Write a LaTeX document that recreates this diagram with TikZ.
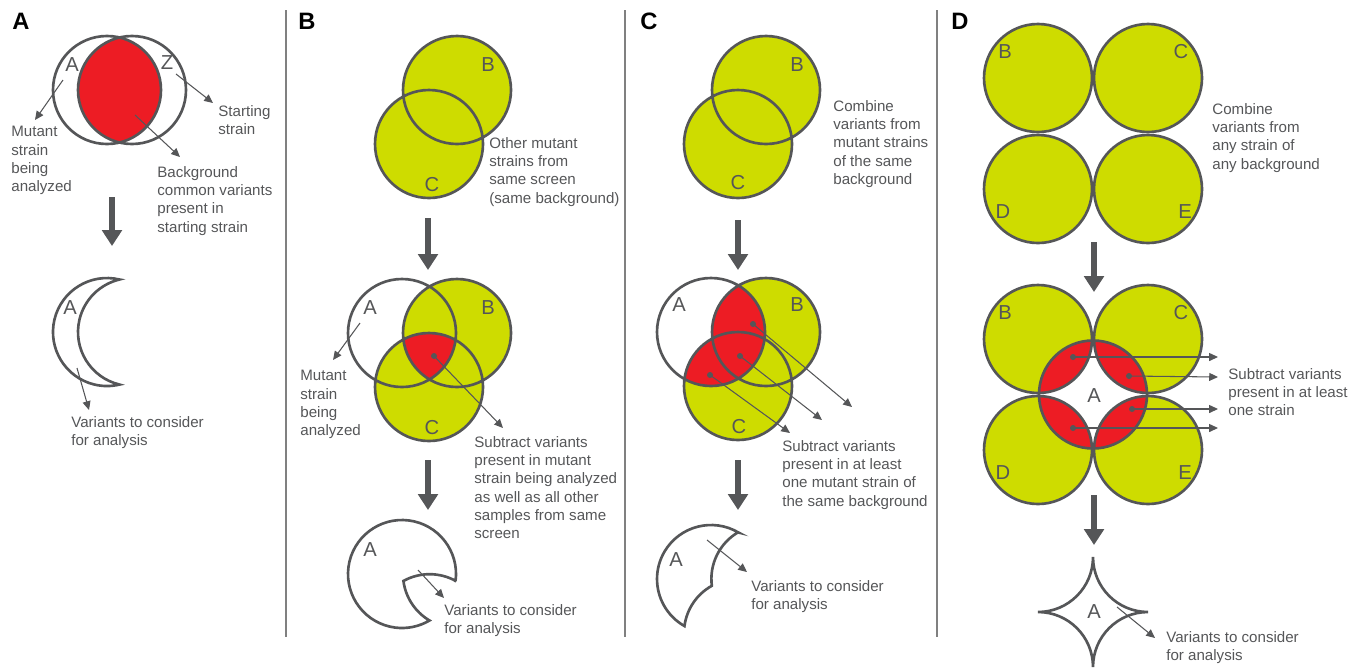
\documentclass[tikz,border=0pt]{standalone}
\usepackage{fontspec}
\setmainfont{Liberation Sans}
\usetikzlibrary{arrows.meta}

\definecolor{strainyellow}{RGB}{206,220,0}
\definecolor{hitred}{RGB}{237,28,36}
\definecolor{inkgray}{RGB}{85,86,88}
\definecolor{rulegray}{RGB}{128,128,128}

\tikzset{
  ring/.style={draw=inkgray, line width=1.5pt},
  lab/.style={text=inkgray, font=\fontsize{11.5}{13}\selectfont, inner sep=0pt},
  note/.style={text=inkgray, font=\fontsize{8.6}{10.4}\selectfont, align=left, anchor=north west, inner sep=0pt},
  ptr/.style={draw=inkgray, line width=0.6pt, -{Triangle[length=5pt,width=4.5pt]}},
  bigarr/.style={draw=inkgray, line width=3.4pt, -{Triangle[length=9pt,width=11pt]}},
  dot/.style={fill=inkgray},
  panel/.style={font=\fontsize{13.5}{16}\selectfont\bfseries, inner sep=0pt},
  sep/.style={draw=rulegray, line width=0.8pt}
}

\begin{document}
\begin{tikzpicture}[x=0.02cm, y=-0.02cm]
  \useasboundingbox (0,0) rectangle (1364,667);
  \foreach \x in {286,625,937} \draw[sep] (\x,10) -- (\x,637);
  \node[panel] (pa) at (21,21) {A};
  \node[panel] (pb) at (307,21) {B};
  \node[panel] (pc) at (649,21) {C};
  \node[panel] (pd) at (960,21) {D};

  % A: mutant vs starting strain
  \begin{scope}
    \clip (107,90) circle (54);
    \fill[hitred] (132,90) circle (54);
  \end{scope}
  \draw[ring] (107,90) circle (54) (132,90) circle (54);
  \node[lab] (la1) at (72,65) {A};
  \node[lab] (lz1) at (167,63) {Z};
  \coordinate (sA) at (63,80);   \coordinate (tA) at (35,120);
  \coordinate (sZ) at (176,74);  \coordinate (tZ) at (213,103);
  \coordinate (sR) at (135,115); \coordinate (tR) at (180,157);
  \draw[ptr] (sA) -- (tA);
  \draw[ptr] (sZ) -- (tZ);
  \draw[ptr] (sR) -- (tR);
  \node[note] (mutA) at (11,126) {Mutant\\strain\\being\\analyzed};
  \node[note] (startA) at (218,105) {Starting\\strain};
  \node[note] (bgA) at (157,166) {Background\\common variants\\present in\\starting strain};
  \coordinate (bigA1) at (112,197); \coordinate (bigA2) at (112,246);
  \draw[bigarr] (bigA1) -- (bigA2);
  \draw[ring] (119.5,279.5) arc[start angle=-76.6,end angle=-283.4,radius=54]
    arc[start angle=103.4,end angle=256.6,radius=54] -- cycle;
  \node[lab] (la2) at (70,308) {A};
  \coordinate (sM) at (77,368); \coordinate (tM) at (89,410);
  \draw[ptr] (sM) -- (tM);
  \node[note] (consA) at (71,416) {Variants to consider\\for analysis};

  % B: same screen
  \fill[strainyellow] (457,90) circle (54) (429,144) circle (54);
  \draw[ring] (457,90) circle (54) (429,144) circle (54);
  \node[lab] (lb1) at (488,65) {B};
  \node[lab] (lc1) at (432,185) {C};
  \node[note] (otherB) at (489,137) {Other mutant\\strains from\\same screen\\(same background)};
  \coordinate (bigB1) at (428,218); \coordinate (bigB2) at (428,270);
  \draw[bigarr] (bigB1) -- (bigB2);
  \fill[strainyellow] (457,333) circle (54) (429,387) circle (54);
  \begin{scope}
    \clip (402,333) circle (54);
    \clip (457,333) circle (54);
    \fill[hitred] (429,387) circle (54);
  \end{scope}
  \draw[ring] (402,333) circle (54) (457,333) circle (54) (429,387) circle (54);
  \node[lab] (la3) at (370,308) {A};
  \node[lab] (lb3) at (488,308) {B};
  \node[lab] (lc3) at (432,428) {C};
  \coordinate (dB) at (434,356); \coordinate (eB) at (503,428);
  \fill[dot] (dB) circle (3);
  \draw[ptr] (dB) -- (eB);
  \coordinate (sAB) at (360,323); \coordinate (tAB) at (333,360);
  \draw[ptr] (sAB) -- (tAB);
  \node[note] (mutB) at (300,370) {Mutant\\strain\\being\\analyzed};
  \node[note] (subB) at (474,436) {Subtract variants\\present in mutant\\strain being analyzed\\as well as all other\\samples from same\\screen};
  \coordinate (bigB3) at (428,460); \coordinate (bigB4) at (428,510);
  \draw[bigarr] (bigB3) -- (bigB4);
  \draw[ring] (455.55,580.98) arc[start angle=7.43,end angle=-300.6,radius=54]
    arc[start angle=120.6,end angle=172.6,radius=54]
    arc[start angle=-119,end angle=-60.55,radius=54] -- cycle;
  \node[lab] (la4) at (370,550) {A};
  \coordinate (sPB) at (418,570); \coordinate (tPB) at (444,598);
  \draw[ptr] (sPB) -- (tPB);
  \node[note] (consB) at (444,604) {Variants to consider\\for analysis};

  % C: same background
  \fill[strainyellow] (766,90) circle (54) (738,144) circle (54);
  \draw[ring] (766,90) circle (54) (738,144) circle (54);
  \node[lab] (lb5) at (797,65) {B};
  \node[lab] (lc5) at (738,183) {C};
  \node[note] (combC) at (833,100) {Combine\\variants from\\mutant strains\\of the same\\background};
  \coordinate (bigC1) at (738,220); \coordinate (bigC2) at (738,270);
  \draw[bigarr] (bigC1) -- (bigC2);
  \fill[strainyellow] (766,332) circle (54) (738,386) circle (54);
  \begin{scope}
    \clip (711,332) circle (54);
    \fill[hitred] (766,332) circle (54) (738,386) circle (54);
  \end{scope}
  \draw[ring] (711,332) circle (54) (766,332) circle (54) (738,386) circle (54);
  \node[lab] (la6) at (679,305) {A};
  \node[lab] (lb6) at (797,305) {B};
  \node[lab] (lc6) at (739,427) {C};
  \foreach \i/\sx/\sy/\ex/\ey in {1/753/324/852/407, 2/740/356/822/420, 3/710/375/790/433} {
    \coordinate (dC\i) at (\sx,\sy); \coordinate (eC\i) at (\ex,\ey);
    \fill[dot] (dC\i) circle (3);
    \draw[ptr] (dC\i) -- (eC\i);
  }
  \node[note] (subC) at (782,440) {Subtract variants\\present in at least\\one mutant strain of\\the same background};
  \coordinate (bigC3) at (738,460); \coordinate (bigC4) at (738,510);
  \draw[bigarr] (bigC3) -- (bigC4);
  \draw[ring] (738.5,532.53) arc[start angle=-59.4,end angle=-240.55,radius=54]
    arc[start angle=187.43,end angle=241,radius=54]
    arc[start angle=172.64,end angle=239.4,radius=54] -- cycle;
  \node[lab] (la7) at (676,560) {A};
  \coordinate (sPC) at (707,540); \coordinate (tPC) at (747,572);
  \draw[ptr] (sPC) -- (tPC);
  \node[note] (consC) at (751,580) {Variants to consider\\for analysis};

  % D: any background
  \foreach \cx/\cy in {1038/78, 1148/78, 1038/189, 1148/189}
    \filldraw[ring, fill=strainyellow] (\cx,\cy) circle (54);
  \node[lab] (lb8) at (1005,52) {B};
  \node[lab] (lc8) at (1181,52) {C};
  \node[lab] (ld8) at (1003,212) {D};
  \node[lab] (le8) at (1185,212) {E};
  \node[note] (combD) at (1212,103) {Combine\\variants from\\any strain of\\any background};
  \coordinate (bigD1) at (1094,242); \coordinate (bigD2) at (1094,292);
  \draw[bigarr] (bigD1) -- (bigD2);
  \foreach \cx/\cy in {1038/339, 1148/339, 1038/450, 1148/450}
    \fill[strainyellow] (\cx,\cy) circle (54);
  \begin{scope}
    \clip (1093,394.5) circle (54);
    \foreach \cx/\cy in {1038/339, 1148/339, 1038/450, 1148/450}
      \fill[hitred] (\cx,\cy) circle (54);
  \end{scope}
  \foreach \cx/\cy in {1038/339, 1148/339, 1038/450, 1148/450, 1093/394.5}
    \draw[ring] (\cx,\cy) circle (54);
  \node[lab] (la9) at (1094,396) {A};
  \node[lab] (lb9) at (1005,313) {B};
  \node[lab] (lc9) at (1181,313) {C};
  \node[lab] (ld9) at (1003,473) {D};
  \node[lab] (le9) at (1185,473) {E};
  \foreach \i/\sx/\sy/\ey in {1/1073/357/357, 2/1129/376/377, 3/1132/409/409, 4/1073/428/428} {
    \coordinate (dD\i) at (\sx,\sy); \coordinate (eD\i) at (1218,\ey);
    \fill[dot] (dD\i) circle (3);
    \draw[ptr] (dD\i) -- (eD\i);
  }
  \node[note] (subD) at (1228,368) {Subtract variants\\present in at least\\one strain};
  \coordinate (bigD3) at (1094,495); \coordinate (bigD4) at (1094,545);
  \draw[bigarr] (bigD3) -- (bigD4);
  \draw[ring] (1093,557) arc[start angle=180,end angle=90,radius=55]
    arc[start angle=-90,end angle=-180,radius=55]
    arc[start angle=0,end angle=-90,radius=55]
    arc[start angle=90,end angle=0,radius=55] -- cycle;
  \node[lab] (la10) at (1094,612) {A};
  \coordinate (sPD) at (1117,607); \coordinate (tPD) at (1155,638);
  \draw[ptr] (sPD) -- (tPD);
  \node[note] (consD) at (1166,631) {Variants to consider\\for analysis};
\end{tikzpicture}
\end{document}
